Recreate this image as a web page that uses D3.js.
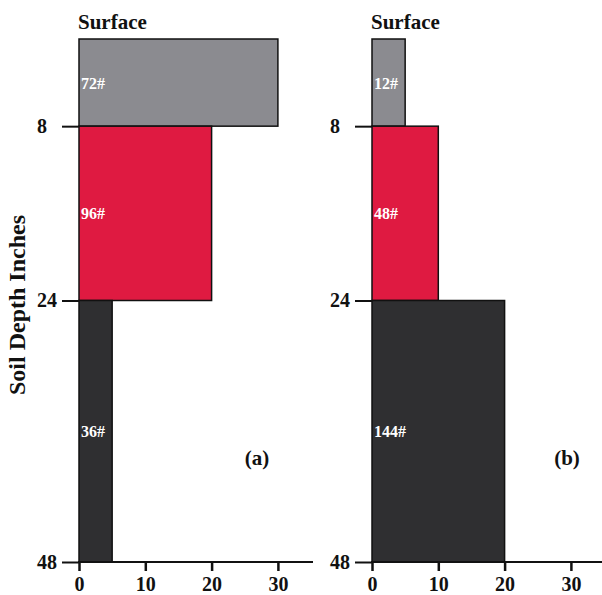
<!DOCTYPE html>
<html>
<head>
<meta charset="utf-8">
<script src="https://cdn.jsdelivr.net/npm/d3@7"></script>
<style>
  body { margin: 0; background: #fff; }
  svg text { font-family: "Liberation Serif", "DejaVu Serif", serif; }
</style>
</head>
<body>
<script>
// soil layers: depth ranges in inches, bar length in the same units as the x axis
var layerTops = [0, 8, 24],
    layerBottoms = [8, 24, 48],
    layerColors = ["#8b8b90", "#df1a41", "#2f2f31"],
    widthsA = [30, 20, 5],
    widthsB = [5, 10, 20],
    labelsA = ["72#", "96#", "36#"],
    labelsB = ["12#", "48#", "144#"],
    xTicks = [0, 10, 20, 30],
    yTicks = [8, 24, 48],
    panelNames = ["(a)", "(b)"];

var width = 602, height = 595;

var svg = d3.select("body").append("svg")
    .attr("width", width)
    .attr("height", height);

var y = d3.scaleLinear().domain([0, 48]).range([39, 562]);

// one panel per treatment
var panels = [
    {x0: 79, axisEnd: 313, widths: widthsA, labels: labelsA, name: panelNames[0], nameX: 257},
    {x0: 372, axisEnd: 602, widths: widthsB, labels: labelsB, name: panelNames[1], nameX: 567}
];

panels.forEach(function(p) {
    var x = d3.scaleLinear().domain([0, 10]).range([p.x0, p.x0 + 66.3]);
    var g = svg.append("g");

    var layers = layerTops.map(function(t, i) {
        return {top: t, bottom: layerBottoms[i], w: p.widths[i], color: layerColors[i], label: p.labels[i]};
    });

    g.selectAll(".layer")
        .data(layers)
        .enter()
        .append("rect")
        .attr("class", "layer")
        .attr("x", x(0))
        .attr("y", function(d) { return y(d.top); })
        .attr("width", function(d) { return x(d.w) - x(0); })
        .attr("height", function(d) { return y(d.bottom) - y(d.top); })
        .style("fill", function(d) { return d.color; })
        .style("stroke", "#111")
        .style("stroke-width", 1.5);

    g.selectAll(".layerLabel")
        .data(layers)
        .enter()
        .append("text")
        .attr("class", "layerLabel")
        .attr("x", x(0) + 2)
        .attr("y", function(d) { return (y(d.top) + y(d.bottom)) / 2 + 6; })
        .style("fill", "#fff")
        .style("font-size", "16px")
        .style("font-weight", "bold")
        .text(function(d) { return d.label; });

    // x axis, line runs past the last tick
    var xAxis = g.append("g")
        .attr("transform", "translate(0," + y(48) + ")")
        .call(d3.axisBottom(x).tickValues(xTicks).tickSize(9).tickSizeOuter(0));
    xAxis.select(".domain").remove();
    xAxis.selectAll("line").style("stroke", "#111").style("stroke-width", 2.5);
    xAxis.selectAll("text")
        .attr("dy", "0.85em")
        .style("font-size", "20px")
        .style("font-weight", "bold")
        .style("fill", "#111");
    g.append("line")
        .attr("x1", x(0) - 1).attr("x2", p.axisEnd)
        .attr("y1", y(48)).attr("y2", y(48))
        .style("stroke", "#111").style("stroke-width", 2);

    // depth ticks to the left, labels left-aligned
    var yAxis = g.append("g")
        .attr("transform", "translate(" + x(0) + ",0)")
        .call(d3.axisLeft(y).tickValues(yTicks).tickSize(17).tickSizeOuter(0));
    yAxis.select(".domain").remove();
    yAxis.selectAll("line").style("stroke", "#111").style("stroke-width", 2);
    yAxis.selectAll("text")
        .attr("x", -42)
        .attr("text-anchor", "start")
        .style("font-size", "20px")
        .style("font-weight", "bold")
        .style("fill", "#111");

    g.append("text")
        .attr("x", x(0) - 1)
        .attr("y", 29)
        .style("font-size", "21px")
        .style("font-weight", "bold")
        .style("fill", "#111")
        .text("Surface");

    g.append("text")
        .attr("x", p.nameX)
        .attr("y", 465)
        .attr("text-anchor", "middle")
        .style("font-size", "21px")
        .style("font-weight", "bold")
        .style("fill", "#111")
        .text(p.name);
});

svg.append("text")
    .attr("transform", "translate(25,305) rotate(-90)")
    .attr("text-anchor", "middle")
    .style("font-size", "24px")
    .style("font-weight", "bold")
    .style("fill", "#111")
    .text("Soil Depth Inches");
</script>
</body>
</html>
